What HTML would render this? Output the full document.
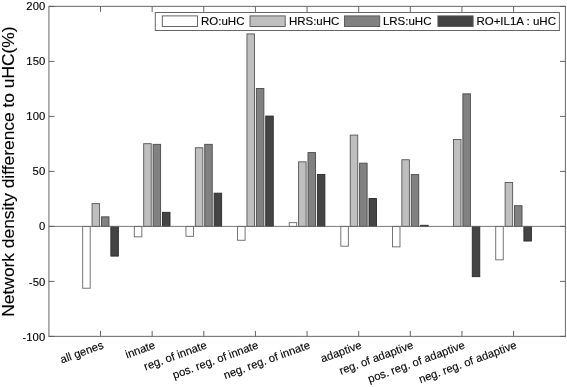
<!DOCTYPE html><html><head><meta charset="utf-8"><style>html,body{margin:0;padding:0;background:#fff;}svg{display:block;will-change:transform;}text{font-family:"Liberation Sans",sans-serif;fill:#000;stroke:#000;stroke-width:0.12px;}</style></head><body>
<svg width="567" height="387" viewBox="0 0 567 387">
<rect x="0" y="0" width="567" height="387" fill="#fff"/>
<rect x="82.69" y="226.40" width="7.51" height="61.82" fill="#ffffff" stroke="#666" stroke-width="0.9"/>
<rect x="92.08" y="203.63" width="7.51" height="22.77" fill="#bfbfbf" stroke="#555" stroke-width="0.9"/>
<rect x="101.47" y="216.83" width="7.51" height="9.57" fill="#818181" stroke="#4a4a4a" stroke-width="0.9"/>
<rect x="110.86" y="226.40" width="7.51" height="29.70" fill="#444444" stroke="#2a2a2a" stroke-width="0.9"/>
<rect x="134.32" y="226.40" width="7.51" height="10.45" fill="#ffffff" stroke="#666" stroke-width="0.9"/>
<rect x="143.71" y="143.68" width="7.51" height="82.72" fill="#bfbfbf" stroke="#555" stroke-width="0.9"/>
<rect x="153.10" y="144.34" width="7.51" height="82.06" fill="#818181" stroke="#4a4a4a" stroke-width="0.9"/>
<rect x="162.49" y="212.32" width="7.51" height="14.08" fill="#444444" stroke="#2a2a2a" stroke-width="0.9"/>
<rect x="185.95" y="226.40" width="7.51" height="9.90" fill="#ffffff" stroke="#666" stroke-width="0.9"/>
<rect x="195.34" y="147.75" width="7.51" height="78.65" fill="#bfbfbf" stroke="#555" stroke-width="0.9"/>
<rect x="204.73" y="144.34" width="7.51" height="82.06" fill="#818181" stroke="#4a4a4a" stroke-width="0.9"/>
<rect x="214.12" y="193.18" width="7.51" height="33.22" fill="#444444" stroke="#2a2a2a" stroke-width="0.9"/>
<rect x="237.58" y="226.40" width="7.51" height="13.86" fill="#ffffff" stroke="#666" stroke-width="0.9"/>
<rect x="246.97" y="33.90" width="7.51" height="192.50" fill="#bfbfbf" stroke="#555" stroke-width="0.9"/>
<rect x="256.36" y="88.46" width="7.51" height="137.94" fill="#818181" stroke="#4a4a4a" stroke-width="0.9"/>
<rect x="265.75" y="116.07" width="7.51" height="110.33" fill="#444444" stroke="#2a2a2a" stroke-width="0.9"/>
<rect x="289.21" y="222.66" width="7.51" height="3.74" fill="#ffffff" stroke="#666" stroke-width="0.9"/>
<rect x="298.60" y="161.83" width="7.51" height="64.57" fill="#bfbfbf" stroke="#555" stroke-width="0.9"/>
<rect x="307.99" y="152.59" width="7.51" height="73.81" fill="#818181" stroke="#4a4a4a" stroke-width="0.9"/>
<rect x="317.38" y="174.48" width="7.51" height="51.92" fill="#444444" stroke="#2a2a2a" stroke-width="0.9"/>
<rect x="340.84" y="226.40" width="7.51" height="19.80" fill="#ffffff" stroke="#666" stroke-width="0.9"/>
<rect x="350.23" y="135.10" width="7.51" height="91.30" fill="#bfbfbf" stroke="#555" stroke-width="0.9"/>
<rect x="359.62" y="163.15" width="7.51" height="63.25" fill="#818181" stroke="#4a4a4a" stroke-width="0.9"/>
<rect x="369.01" y="198.57" width="7.51" height="27.83" fill="#444444" stroke="#2a2a2a" stroke-width="0.9"/>
<rect x="392.47" y="226.40" width="7.51" height="20.46" fill="#ffffff" stroke="#666" stroke-width="0.9"/>
<rect x="401.86" y="159.74" width="7.51" height="66.66" fill="#bfbfbf" stroke="#555" stroke-width="0.9"/>
<rect x="411.25" y="174.59" width="7.51" height="51.81" fill="#818181" stroke="#4a4a4a" stroke-width="0.9"/>
<rect x="420.64" y="225.30" width="7.51" height="1.10" fill="#444444" stroke="#2a2a2a" stroke-width="0.9"/>
<rect x="453.49" y="139.50" width="7.51" height="86.90" fill="#bfbfbf" stroke="#555" stroke-width="0.9"/>
<rect x="462.88" y="93.85" width="7.51" height="132.55" fill="#818181" stroke="#4a4a4a" stroke-width="0.9"/>
<rect x="472.27" y="226.40" width="7.51" height="50.27" fill="#444444" stroke="#2a2a2a" stroke-width="0.9"/>
<rect x="495.73" y="226.40" width="7.51" height="33.44" fill="#ffffff" stroke="#666" stroke-width="0.9"/>
<rect x="505.12" y="182.51" width="7.51" height="43.89" fill="#bfbfbf" stroke="#555" stroke-width="0.9"/>
<rect x="514.51" y="205.72" width="7.51" height="20.68" fill="#818181" stroke="#4a4a4a" stroke-width="0.9"/>
<rect x="523.90" y="226.40" width="7.51" height="14.63" fill="#444444" stroke="#2a2a2a" stroke-width="0.9"/>
<line x1="48.9" y1="226.40" x2="565.45" y2="226.40" stroke="#6a6a6a" stroke-width="0.9"/>
<rect x="48.9" y="6.4" width="516.55" height="330.00" fill="none" stroke="#7a7a7a" stroke-width="1.15"/>
<line x1="100.53" y1="336.4" x2="100.53" y2="330.90" stroke="#5c5c5c" stroke-width="0.95"/>
<line x1="100.53" y1="6.4" x2="100.53" y2="11.90" stroke="#5c5c5c" stroke-width="0.95"/>
<line x1="152.16" y1="336.4" x2="152.16" y2="330.90" stroke="#5c5c5c" stroke-width="0.95"/>
<line x1="152.16" y1="6.4" x2="152.16" y2="11.90" stroke="#5c5c5c" stroke-width="0.95"/>
<line x1="203.79" y1="336.4" x2="203.79" y2="330.90" stroke="#5c5c5c" stroke-width="0.95"/>
<line x1="203.79" y1="6.4" x2="203.79" y2="11.90" stroke="#5c5c5c" stroke-width="0.95"/>
<line x1="255.42" y1="336.4" x2="255.42" y2="330.90" stroke="#5c5c5c" stroke-width="0.95"/>
<line x1="255.42" y1="6.4" x2="255.42" y2="11.90" stroke="#5c5c5c" stroke-width="0.95"/>
<line x1="307.05" y1="336.4" x2="307.05" y2="330.90" stroke="#5c5c5c" stroke-width="0.95"/>
<line x1="307.05" y1="6.4" x2="307.05" y2="11.90" stroke="#5c5c5c" stroke-width="0.95"/>
<line x1="358.68" y1="336.4" x2="358.68" y2="330.90" stroke="#5c5c5c" stroke-width="0.95"/>
<line x1="358.68" y1="6.4" x2="358.68" y2="11.90" stroke="#5c5c5c" stroke-width="0.95"/>
<line x1="410.31" y1="336.4" x2="410.31" y2="330.90" stroke="#5c5c5c" stroke-width="0.95"/>
<line x1="410.31" y1="6.4" x2="410.31" y2="11.90" stroke="#5c5c5c" stroke-width="0.95"/>
<line x1="461.94" y1="336.4" x2="461.94" y2="330.90" stroke="#5c5c5c" stroke-width="0.95"/>
<line x1="461.94" y1="6.4" x2="461.94" y2="11.90" stroke="#5c5c5c" stroke-width="0.95"/>
<line x1="513.57" y1="336.4" x2="513.57" y2="330.90" stroke="#5c5c5c" stroke-width="0.95"/>
<line x1="513.57" y1="6.4" x2="513.57" y2="11.90" stroke="#5c5c5c" stroke-width="0.95"/>
<line x1="48.9" y1="336.40" x2="54.40" y2="336.40" stroke="#5c5c5c" stroke-width="0.95"/>
<line x1="565.45" y1="336.40" x2="559.95" y2="336.40" stroke="#5c5c5c" stroke-width="0.95"/>
<text transform="translate(45.2,340.70) scale(1,1.03)" font-size="11.3" text-anchor="end">-100</text>
<line x1="48.9" y1="281.40" x2="54.40" y2="281.40" stroke="#5c5c5c" stroke-width="0.95"/>
<line x1="565.45" y1="281.40" x2="559.95" y2="281.40" stroke="#5c5c5c" stroke-width="0.95"/>
<text transform="translate(45.2,285.58) scale(1,1.03)" font-size="11.3" text-anchor="end">-50</text>
<line x1="48.9" y1="226.40" x2="54.40" y2="226.40" stroke="#5c5c5c" stroke-width="0.95"/>
<line x1="565.45" y1="226.40" x2="559.95" y2="226.40" stroke="#5c5c5c" stroke-width="0.95"/>
<text transform="translate(45.2,230.47) scale(1,1.03)" font-size="11.3" text-anchor="end">0</text>
<line x1="48.9" y1="171.40" x2="54.40" y2="171.40" stroke="#5c5c5c" stroke-width="0.95"/>
<line x1="565.45" y1="171.40" x2="559.95" y2="171.40" stroke="#5c5c5c" stroke-width="0.95"/>
<text transform="translate(45.2,175.35) scale(1,1.03)" font-size="11.3" text-anchor="end">50</text>
<line x1="48.9" y1="116.40" x2="54.40" y2="116.40" stroke="#5c5c5c" stroke-width="0.95"/>
<line x1="565.45" y1="116.40" x2="559.95" y2="116.40" stroke="#5c5c5c" stroke-width="0.95"/>
<text transform="translate(45.2,120.23) scale(1,1.03)" font-size="11.3" text-anchor="end">100</text>
<line x1="48.9" y1="61.40" x2="54.40" y2="61.40" stroke="#5c5c5c" stroke-width="0.95"/>
<line x1="565.45" y1="61.40" x2="559.95" y2="61.40" stroke="#5c5c5c" stroke-width="0.95"/>
<text transform="translate(45.2,65.12) scale(1,1.03)" font-size="11.3" text-anchor="end">150</text>
<line x1="48.9" y1="6.40" x2="54.40" y2="6.40" stroke="#5c5c5c" stroke-width="0.95"/>
<line x1="565.45" y1="6.40" x2="559.95" y2="6.40" stroke="#5c5c5c" stroke-width="0.95"/>
<text transform="translate(45.2,10.00) scale(1,1.03)" font-size="11.3" text-anchor="end">200</text>
<text transform="translate(104.33,348.0) rotate(-20)" font-size="11.3" text-anchor="end" fill="#111">all genes</text>
<text transform="translate(155.96,348.0) rotate(-20)" font-size="11.3" text-anchor="end" fill="#111">innate</text>
<text transform="translate(207.59,348.0) rotate(-20)" font-size="11.3" text-anchor="end" fill="#111">reg. of innate</text>
<text transform="translate(259.22,348.0) rotate(-20)" font-size="11.3" text-anchor="end" fill="#111">pos. reg. of innate</text>
<text transform="translate(310.85,348.0) rotate(-20)" font-size="11.3" text-anchor="end" fill="#111">neg. reg. of innate</text>
<text transform="translate(362.48,348.0) rotate(-20)" font-size="11.3" text-anchor="end" fill="#111">adaptive</text>
<text transform="translate(414.11,348.0) rotate(-20)" font-size="11.3" text-anchor="end" fill="#111">reg. of adaptive</text>
<text transform="translate(465.74,348.0) rotate(-20)" font-size="11.3" text-anchor="end" fill="#111">pos. reg. of adaptive</text>
<text transform="translate(517.37,348.0) rotate(-20)" font-size="11.3" text-anchor="end" fill="#111">neg. reg. of adaptive</text>
<text transform="translate(14.1,316.7) rotate(-90)" font-size="16.5" textLength="290.3" lengthAdjust="spacingAndGlyphs" fill="#111">Network density difference to uHC(%)</text>
<rect x="155.3" y="12.5" width="404.1" height="18.0" fill="#fff" stroke="#666" stroke-width="1"/>
<rect x="162.3" y="15.9" width="35.2" height="10.6" fill="#ffffff" stroke="#555" stroke-width="0.9"/>
<text x="201" y="24.7" font-size="11.5" fill="#111">RO:uHC</text>
<rect x="250.0" y="15.9" width="35.2" height="10.6" fill="#bfbfbf" stroke="#555" stroke-width="0.9"/>
<text x="288.9" y="24.7" font-size="11.5" fill="#111">HRS:uHC</text>
<rect x="344.5" y="15.9" width="35.2" height="10.6" fill="#818181" stroke="#555" stroke-width="0.9"/>
<text x="382.9" y="24.7" font-size="11.5" fill="#111">LRS:uHC</text>
<rect x="437.90000000000003" y="15.9" width="35.2" height="10.6" fill="#444444" stroke="#555" stroke-width="0.9"/>
<text x="476.4" y="24.7" font-size="11.5" fill="#111">RO+IL1A : uHC</text>
</svg></body></html>
